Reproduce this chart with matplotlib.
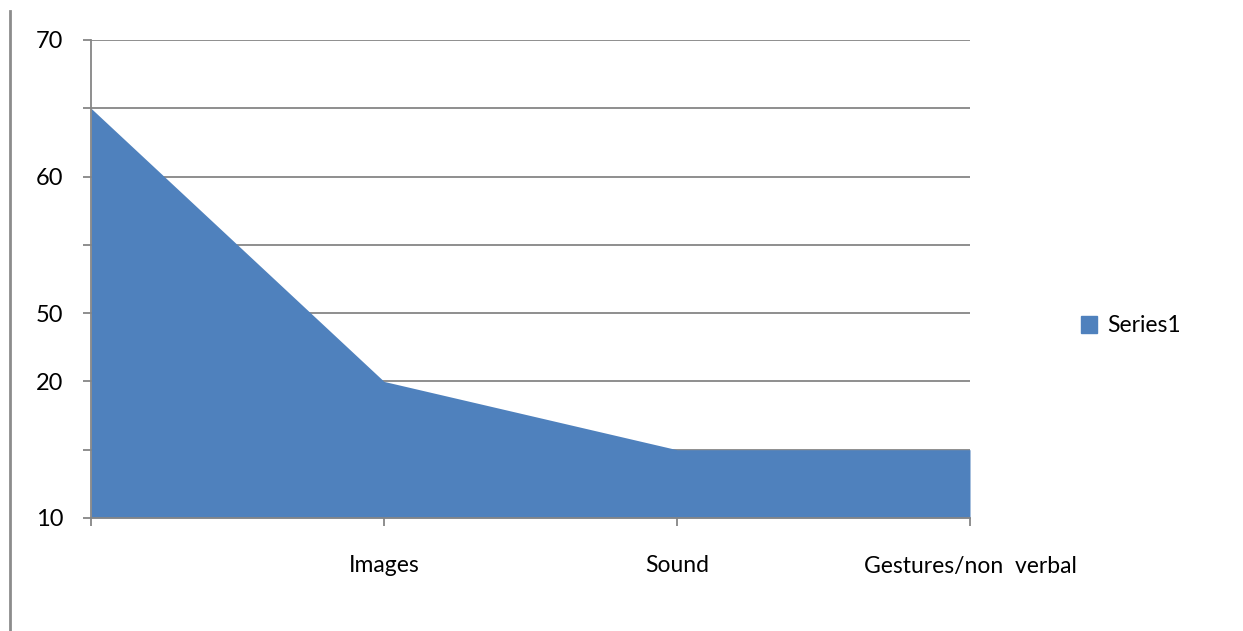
import matplotlib
matplotlib.use('Agg')
import matplotlib.pyplot as plt
from matplotlib.lines import Line2D
from matplotlib.patches import Patch

plt.rcParams['font.family'] = ['Lato', 'DejaVu Sans']

# data
categories = ['', 'Images', 'Sound', 'Gestures/non  verbal']
values = [6, 2, 1, 1]
ytick_labels = ['10', '', '20', '50', '', '60', '', '70']

fill_col = '#4F81BD'
grey = '#868686'

fig = plt.figure(figsize=(12.43, 6.31), dpi=100)
ax = fig.add_axes([91/1243, 1 - 518/631, (970 - 91)/1243, (518 - 40)/631])

x = list(range(len(categories)))
ax.fill_between(x, 0, values, color=fill_col, linewidth=0, zorder=2)

ax.set_xlim(0, len(categories) - 1)
ax.set_ylim(0, len(ytick_labels) - 1)
ax.set_yticks(range(len(ytick_labels)))
ax.set_yticklabels(ytick_labels)
ax.set_xticks(x)
ax.set_xticklabels(categories)

ax.yaxis.grid(True, color=grey, linewidth=1.3, zorder=1)
ax.set_axisbelow(True)
for s in ['top', 'right']:
    ax.spines[s].set_visible(False)
for s in ['left', 'bottom']:
    ax.spines[s].set_color(grey)
    ax.spines[s].set_linewidth(1.3)
    ax.spines[s].set_zorder(3)

ax.tick_params(axis='y', length=6, width=1.3, color=grey, pad=14, labelsize=17)
ax.tick_params(axis='x', length=6, width=1.3, color=grey, pad=21, labelsize=16.5)

fig.legend(handles=[Patch(color=fill_col, label='Series1')],
           loc='center left', bbox_to_anchor=(1060/1243, 1 - 326/631),
           frameon=False, fontsize=16.5, handlelength=0.7, handleheight=0.7,
           handletextpad=0.45)

# frame line on the left edge
fig.add_artist(Line2D([10/1243, 10/1243], [0, 1 - 11/631],
                      color='#8c8c8c', linewidth=2, transform=fig.transFigure))

fig.savefig('out.png', dpi=100)
